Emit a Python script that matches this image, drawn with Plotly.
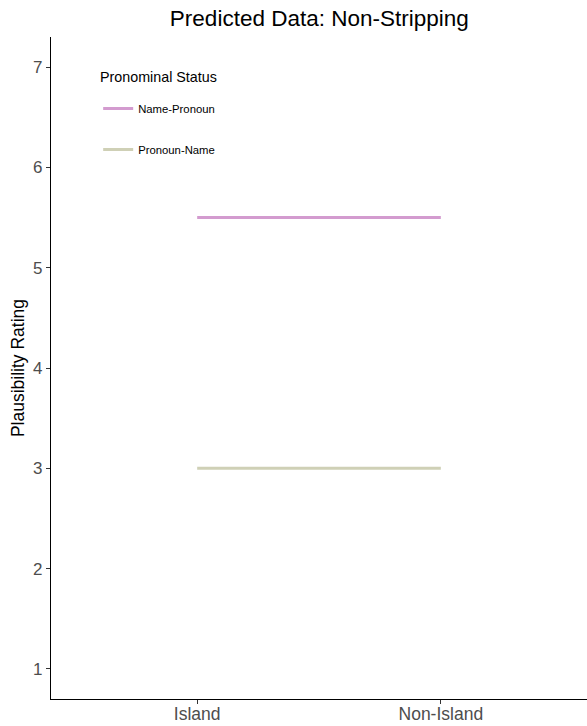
import plotly.graph_objects as go

conditions = ["Island", "Non-Island"]
x_pos = [1, 2]
name_pronoun = [5.5, 5.5]
pronoun_name = [3.0, 3.0]
y_ticks = [1, 2, 3, 4, 5, 6, 7]

fig = go.Figure()
fig.add_trace(go.Scatter(x=x_pos, y=name_pronoun, mode="lines", name="Name-Pronoun",
                         legendgroup="a", line=dict(color="#D39BCF", width=3)))
fig.add_trace(go.Scatter(x=x_pos, y=pronoun_name, mode="lines", name="Pronoun-Name",
                         legendgroup="b", line=dict(color="#CFD0B6", width=3)))

fig.update_layout(
    width=587, height=726,
    margin=dict(l=51, r=0, t=37, b=27, autoexpand=False),
    plot_bgcolor="white", paper_bgcolor="white",
    font=dict(family="Liberation Sans, Arial, sans-serif", color="black"),
    title=dict(text="Predicted Data: Non-Stripping", x=0.544, xanchor="center",
               y=0.975, yanchor="middle", font=dict(size=22.5, color="black")),
    showlegend=True,
    legend=dict(x=0.088, y=0.914, xanchor="left", yanchor="top",
                font=dict(size=11.3), tracegroupgap=22, bgcolor="rgba(0,0,0,0)",
                itemwidth=30),
    annotations=[dict(text="Pronominal Status", xref="paper", yref="paper",
                      x=0.087, y=0.9403, xanchor="left", yanchor="middle",
                      showarrow=False, font=dict(size=14.3, color="black"))],
    xaxis=dict(range=[0.4, 2.6], tickvals=x_pos, ticktext=conditions, automargin=False,
               showline=True, linecolor="black", linewidth=1.2, showgrid=False, zeroline=False,
               ticks="outside", ticklen=4, tickcolor="#333333", ticklabelstandoff=-5,
               tickfont=dict(size=17.5, color="#4D4D4D")),
    yaxis=dict(range=[0.7, 7.3], tickvals=y_ticks, automargin=False,
               showline=True, linecolor="black", linewidth=1.2, showgrid=False, zeroline=False,
               ticks="outside", ticklen=4, tickcolor="#333333",
               tickfont=dict(size=17, color="#4D4D4D"),
               title=dict(text="Plausibility Rating", font=dict(size=17.5, color="black"), standoff=3)),
)

fig.write_html("out.html", post_script="document.body.style.margin='0';",
               config={"displayModeBar": False})
